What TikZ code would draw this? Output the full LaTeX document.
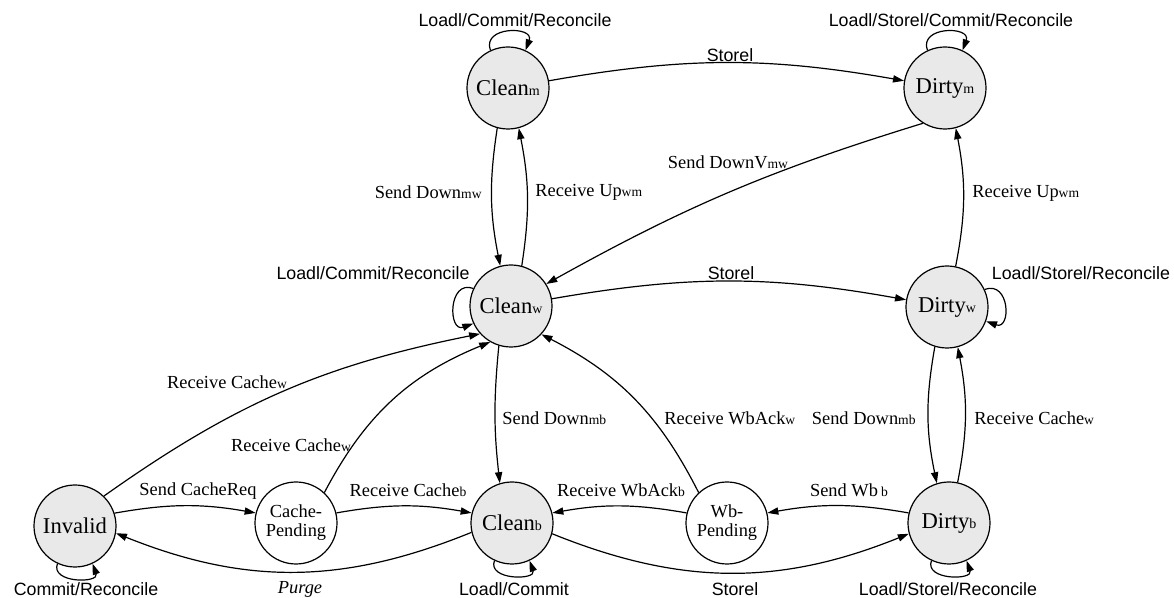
\documentclass[tikz,border=0pt]{standalone}
\usepackage{fontspec}
\setmainfont{Liberation Serif}
\newfontfamily\lsans{Liberation Sans}
\usetikzlibrary{arrows.meta}
\newcommand\lsub[1]{{\fontsize{6.8}{7}\selectfont #1}}
\newcommand\ssub[1]{{\fontsize{7}{7}\selectfont #1}}
\begin{document}
\begin{tikzpicture}[x=0.5pt,y=0.5pt,
 state/.style={circle,draw,line width=0.6pt,fill=gray!17,minimum size=41pt,inner sep=0pt,font=\fontsize{11.3}{12}\selectfont},
 pend/.style={circle,draw,line width=0.6pt,fill=white,minimum size=41pt,inner sep=0pt,align=center,font=\fontsize{9.2}{9.5}\selectfont},
 arr/.style={line width=0.6pt,-{Triangle[length=5.5pt,width=3.6pt]}},
 lbl/.style={inner sep=0pt,font=\fontsize{9.2}{10}\selectfont},
 slbl/.style={inner sep=0pt,font=\lsans\fontsize{8.9}{10}\selectfont}]
\useasboundingbox (0,0) rectangle (1174,-598);
% states
\node[state] (cm) at (508,-88) {Clean\ssub{m}};
\node[state] (dm) at (945,-88) {Dirty\ssub{m}};
\node[state] (cw) at (511,-306) {Clean\ssub{w}};
\node[state] (dw) at (947,-307) {Dirty\ssub{w}};
\node[state] (inv) at (75,-526) {Invalid};
\node[pend] (cp) at (296,-523) {Cache-\\Pending};
\node[state] (cb) at (512,-523) {Clean\ssub{b}};
\node[pend] (wb) at (727,-523) {Wb-\\Pending};
\node[state] (db) at (949,-523) {Dirty\ssub{b}};
% self loops
\draw[arr] (cm.115) .. controls +(110:26) and +(70:26) .. (cm.65);
\draw[arr] (dm.115) .. controls +(110:26) and +(70:26) .. (dm.65);
\draw[arr] (cw.155) .. controls +(160:27) and +(200:27) .. (cw.205);
\draw[arr] (dw.25) .. controls +(20:27) and +(-20:27) .. (dw.-20);
\draw[arr] (inv.245) .. controls +(250:21) and +(290:21) .. (inv.295);
\draw[arr] (cb.245) .. controls +(250:21) and +(290:21) .. (cb.295);
\draw[arr] (db.245) .. controls +(250:21) and +(290:21) .. (db.295);
% transitions
\draw[arr] (cm.10) to[bend left=10] (dm.170);
\draw[arr] (cm.-105) to[bend right=10] (cw.105);
\draw[arr] (cw.75) to[bend right=10] (cm.-75);
\draw[arr] (dm.238) to[bend right=6] (cw.32);
\draw[arr] (dw.78) to[bend right=11] (dm.-75);
\draw[arr] (cw.10) to[bend left=10] (dw.170);
\draw[arr] (inv.46) to[bend left=12] (cw.222);
\draw[arr] (cp.47) to[bend left=20] (cw.240);
\draw[arr] (cw.-107) to[bend right=6] (cb.107);
\draw[arr] (wb.133) to[bend right=18] (cw.-43);
\draw[arr] (dw.-107) to[bend right=11] (db.107);
\draw[arr] (db.78) to[bend right=11] (dw.-75);
\draw[arr] (inv.18) to[bend left=10] (cp.166);
\draw[arr] (cp.14) to[bend left=10] (cb.166);
\draw[arr] (wb.166) to[bend right=10] (cb.14);
\draw[arr] (db.166) to[bend right=10] (wb.14);
\draw[arr] (cb.193) to[bend left=22] (inv.-10);
\draw[arr] (cb.-15) to[bend right=22] (db.195);
% labels
\node[slbl] (l1) at (515,-20) {Loadl/Commit/Reconcile};
\node[slbl] (l2) at (951,-20) {Loadl/Storel/Commit/Reconcile};
\node[slbl] (l3) at (730,-55) {Storel};
\node[lbl,anchor=east] (l4) at (482,-192) {Send Down\lsub{mw}};
\node[lbl,anchor=west] (l5) at (535,-192) {Receive Up\lsub{wm}};
\node[lbl] (l6) at (728,-162) {Send DownV\lsub{mw}};
\node[lbl,anchor=west] (l7) at (972,-193) {Receive Up\lsub{wm}};
\node[slbl] (l8) at (373,-273) {Loadl/Commit/Reconcile};
\node[slbl] (l9) at (731,-273) {Storel};
\node[slbl] (l10) at (1081,-273) {Loadl/Storel/Reconcile};
\node[lbl] (l11) at (227,-382) {Receive Cache\lsub{w}};
\node[lbl] (l12) at (291,-445) {Receive Cache\lsub{w}};
\node[lbl,anchor=west] (l13) at (502,-418) {Send Down\lsub{mb}};
\node[lbl,anchor=west] (l14) at (664,-418) {Receive WbAck\lsub{w}};
\node[lbl,anchor=east] (l15) at (916,-418) {Send Down\lsub{mb}};
\node[lbl,anchor=west] (l16) at (974,-418) {Receive Cache\lsub{w}};
\node[lbl] (l17) at (198,-491) {Send CacheReq};
\node[lbl] (l18) at (408,-490) {Receive Cache\lsub{b}};
\node[lbl] (l19) at (621,-490) {Receive WbAck\lsub{b}};
\node[lbl] (l20) at (849,-490) {Send Wb\,\lsub{b}};
\node[slbl] (l21) at (86,-589) {Commit/Reconcile};
\node[lbl,font=\fontsize{9.2}{10}\selectfont\itshape] (l22) at (300,-589) {Purge};
\node[slbl] (l23) at (514,-589) {Loadl/Commit};
\node[slbl] (l24) at (735,-589) {Storel};
\node[slbl] (l25) at (948,-589) {Loadl/Storel/Reconcile};
\end{tikzpicture}
\end{document}
